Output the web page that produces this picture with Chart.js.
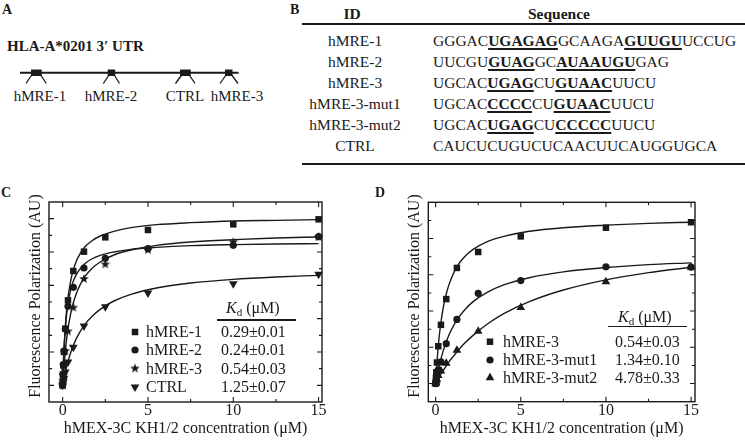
<!DOCTYPE html>
<html>
<head>
<meta charset="utf-8">
<script src="https://cdn.jsdelivr.net/npm/chart.js@4.4.1/dist/chart.umd.min.js"></script>
<style>
html, body { margin: 0; padding: 0; background: #fff; }
body { width: 745px; height: 440px; position: relative; overflow: hidden;
       font-family: "Liberation Serif", "Times New Roman", serif; color: #1a1a1a; }
.t { position: absolute; white-space: nowrap; line-height: 1; }
.c { transform: translateX(-50%); }
.b { font-weight: bold; }
.seq u { font-weight: bold; text-decoration-thickness: 1.5px; text-underline-offset: 2px; }
.rule { position: absolute; background: #1a1a1a; height: 2px; }
canvas { position: absolute; }
sub { font-size: 11px; vertical-align: -3px; line-height: 0; }
</style>
</head>
<body>

<!-- panel A -->
<div class="t b" style="left:2px;top:3px;font-size:14px">A</div>
<div class="t b" style="left:7px;top:39px;font-size:15px">HLA-A*0201 3′ UTR</div>
<svg style="position:absolute;left:0;top:0" width="270" height="110">
  <g stroke="#1a1a1a" stroke-width="1.3" fill="none">
    <line x1="20" y1="72.7" x2="238.5" y2="72.7" stroke-width="2"/>
    <path d="M31.7 75 L26 83.5 M40.7 75 L46.3 83.5"/>
    <path d="M109 75 L103.3 83.5 M114.3 75 L119.5 83.5"/>
    <path d="M181.7 75 L175.5 83.5 M189.3 75 L195 83.5"/>
    <path d="M226 75 L220 83.5 M231.7 75 L238 83.5"/>
  </g>
  <g fill="#1a1a1a">
    <rect x="31" y="69.5" width="10.7" height="6.5"/>
    <rect x="107.7" y="69.5" width="7.5" height="6.5"/>
    <rect x="180" y="69.5" width="10.7" height="6.5"/>
    <rect x="225" y="69.5" width="7.5" height="6.5"/>
  </g>
</svg>
<div class="t c" style="left:40px;top:89px;font-size:15px">hMRE-1</div>
<div class="t c" style="left:111px;top:89px;font-size:15px">hMRE-2</div>
<div class="t c" style="left:185px;top:89px;font-size:15px">CTRL</div>
<div class="t c" style="left:237px;top:89px;font-size:15px">hMRE-3</div>

<!-- panel B -->
<div class="t b" style="left:290px;top:3px;font-size:14px">B</div>
<div class="t b c" style="left:352px;top:6px;font-size:15.5px">ID</div>
<div class="t b c" style="left:559px;top:6px;font-size:15.5px">Sequence</div>
<div class="rule" style="left:302px;top:23px;width:443px"></div>
<div id="seqTable"></div>
<div class="rule" style="left:302px;top:163px;width:443px"></div>

<!-- panels C and D -->
<div class="t b" style="left:1px;top:186px;font-size:14px">C</div>
<canvas id="chartC" width="380" height="260" style="left:0;top:180px;width:380px;height:260px"></canvas>
<div class="t b" style="left:375px;top:186px;font-size:14px">D</div>
<canvas id="chartD" width="365" height="260" style="left:380px;top:180px;width:365px;height:260px"></canvas>
<div id="legends"></div>

<script>
// concentrations (µM) and fluorescence polarization readings
const conc = [0, 0.0195, 0.039, 0.078, 0.156, 0.3125, 0.625, 1.25, 2.5, 5, 10, 15];
const fpMRE1 = [0, 0.33, 0.6, 1.0, 1.7, 2.55, 3.43, 4.01, 4.44, 4.66, 4.83, 4.98];
const fpMRE2 = [0, 0.32, 0.62, 1.03, 1.69, 2.37, 2.94, 3.52, 3.81, 4.10, 4.20, 4.46];
const fpMRE3 = [0, 0.16, 0.31, 0.58, 1.03, 1.62, 2.33, 3.19, 3.63, 4.06, 4.30, 4.45];
const fpCTRL = [0, 0.06, 0.11, 0.21, 0.40, 0.70, 1.14, 1.78, 2.36, 2.77, 3.05, 3.33];
const fpMut1 = [0, 0.05, 0.12, 0.22, 0.38, 0.60, 1.10, 1.77, 2.49, 2.84, 3.22, 3.21];
const fpMut2 = [0, 0.03, 0.07, 0.12, 0.22, 0.35, 0.56, 0.92, 1.44, 2.10, 2.81, 3.21];

// fitted curves
const fitX = [0, 0.05, 0.1, 0.2, 0.3, 0.45, 0.6, 0.8, 1, 1.3, 1.7, 2.2, 3, 4, 5.5, 7.5, 10, 12.5, 15];
const fitMRE1 = [0, 0.75, 1.30, 2.07, 2.58, 3.08, 3.42, 3.72, 3.93, 4.15, 4.33, 4.48, 4.62, 4.73, 4.82, 4.88, 4.93, 4.95, 4.97];
const fitMRE2 = [0, 0.75, 1.27, 1.96, 2.40, 2.82, 3.09, 3.32, 3.48, 3.65, 3.79, 3.90, 4.00, 4.08, 4.14, 4.19, 4.22, 4.24, 4.25];
const fitMRE3 = [0, 0.39, 0.72, 1.25, 1.65, 2.10, 2.43, 2.75, 2.99, 3.26, 3.50, 3.70, 3.91, 4.06, 4.20, 4.30, 4.37, 4.42, 4.45];
const fitCTRL = [0, 0.14, 0.27, 0.49, 0.69, 0.95, 1.16, 1.40, 1.59, 1.83, 2.06, 2.28, 2.53, 2.73, 2.92, 3.07, 3.18, 3.25, 3.30];
const fitMut1 = [0, 0.13, 0.25, 0.47, 0.66, 0.91, 1.12, 1.36, 1.55, 1.79, 2.03, 2.26, 2.51, 2.72, 2.92, 3.08, 3.20, 3.28, 3.33];
const fitMut2 = [0, 0.04, 0.09, 0.17, 0.25, 0.36, 0.47, 0.61, 0.73, 0.90, 1.11, 1.33, 1.63, 1.93, 2.26, 2.58, 2.86, 3.06, 3.21];

const namesC = ["hMRE-1", "hMRE-2", "hMRE-3", "CTRL"];
const kdC = ["0.29±0.01", "0.24±0.01", "0.54±0.03", "1.25±0.07"];
const namesD = ["hMRE-3", "hMRE-3-mut1", "hMRE-3-mut2"];
const kdD = ["0.54±0.03", "1.34±0.10", "4.78±0.33"];

const xTickLabels = [0, 5, 10, 15];
const xMinorTicks = [2.5, 7.5, 12.5];
const yMajorC = [0, 1, 2, 3, 4, 5];
const yMinorC = [0.5, 1.5, 2.5, 3.5, 4.5];
const yMajorD = [0, 1, 2, 3, 4];
const yMinorD = [0.5, 1.5, 2.5, 3.5, 4.5];

// table B
const seqIds = ["hMRE-1", "hMRE-2", "hMRE-3", "hMRE-3-mut1", "hMRE-3-mut2", "CTRL"];
const seqHtml = [
    "GGGAC<u>UGAGAG</u>GCAAGA<u>GUUGU</u>UCCUG",
    "UUCGU<u>GUAG</u>GC<u>AUAAUGU</u>GAG",
    "UGCAC<u>UGAG</u>CU<u>GUAAC</u>UUCU",
    "UGCAC<u>CCCC</u>CU<u>GUAAC</u>UUCU",
    "UGCAC<u>UGAG</u>CU<u>CCCCC</u>UUCU",
    "CAUCUCUGUCUCAACUUCAUGGUGCA"
];

const FONT = '"Liberation Serif", "Times New Roman", serif';
const INK = '#1a1a1a';

let tableHtml = "";
seqIds.forEach((id, i) => {
    const top = 32.5 + i * 21;
    tableHtml += `<div class="t c" style="left:355px;top:${top}px;font-size:15.5px">${id}</div>`;
    tableHtml += `<div class="t seq" style="left:433px;top:${top}px;font-size:15.5px">${seqHtml[i]}</div>`;
});
document.getElementById('seqTable').innerHTML = tableHtml;

function starImage(r){
    const c = document.createElement('canvas');
    const s = Math.ceil(r * 2 + 2);
    c.width = s; c.height = s;
    const g = c.getContext('2d');
    g.fillStyle = INK;
    g.beginPath();
    for(let i = 0; i < 10; i++){
        const rad = i % 2 ? r * 0.42 : r;
        const ang = -Math.PI / 2 + i * Math.PI / 5;
        g.lineTo(s / 2 + rad * Math.cos(ang), s / 2 + rad * Math.sin(ang));
    }
    g.closePath();
    g.fill();
    return c;
}
const star = starImage(5);

const marks = {
    square: {pointStyle: 'rect', radius: 4.6, rotation: 0},
    circle: {pointStyle: 'circle', radius: 3.6, rotation: 0},
    star: {pointStyle: star, radius: 5, rotation: 0},
    down: {pointStyle: 'triangle', radius: 5, rotation: 180},
    up: {pointStyle: 'triangle', radius: 5, rotation: 0}
};

function fitSet(ys){
    return {
        type: 'line',
        data: fitX.map((x, i) => ({x: x, y: ys[i]})),
        borderColor: INK,
        borderWidth: 1.4,
        pointRadius: 0,
        cubicInterpolationMode: 'monotone',
        fill: false,
        clip: 2
    };
}

function pointSet(ys, m){
    return {
        type: 'line',
        data: conc.map((x, i) => ({x: x, y: ys[i]})),
        showLine: false,
        pointStyle: m.pointStyle,
        pointRadius: m.radius,
        pointRotation: m.rotation,
        pointBackgroundColor: INK,
        pointBorderWidth: 0,
        clip: false
    };
}

const framePlugin = {
    id: 'frame',
    afterDatasetsDraw(chart, args, opts){
        const {ctx, chartArea: a, scales: {x, y}} = chart;
        ctx.save();
        ctx.strokeStyle = INK;
        ctx.lineWidth = 1.4;
        ctx.strokeRect(a.left, a.top, a.right - a.left, a.bottom - a.top);
        ctx.lineWidth = 1.1;
        ctx.beginPath();
        const xt = (vals, len) => vals.forEach(v => {
            const px = x.getPixelForValue(v);
            ctx.moveTo(px, a.bottom); ctx.lineTo(px, a.bottom - len);
            ctx.moveTo(px, a.top); ctx.lineTo(px, a.top + len);
        });
        const yt = (vals, len) => vals.forEach(v => {
            const py = y.getPixelForValue(v);
            ctx.moveTo(a.left, py); ctx.lineTo(a.left + len, py);
            ctx.moveTo(a.right, py); ctx.lineTo(a.right - len, py);
        });
        xt(xTickLabels, 5); xt(xMinorTicks, 3);
        yt(opts.yMajor, 5); yt(opts.yMinor, 3);
        ctx.stroke();
        ctx.restore();
    },
    afterDraw(chart, args, opts){
        const ctx = chart.ctx;
        ctx.save();
        ctx.fillStyle = INK;
        ctx.strokeStyle = INK;
        (opts.legend || []).forEach(it => {
            Chart.helpers.drawPoint(ctx, {pointStyle: it.m.pointStyle, radius: it.m.radius, rotation: it.m.rotation, borderWidth: 0}, it.x, it.y);
        });
        ctx.restore();
    }
};

function makeChart(id, sets, cfg){
    return new Chart(document.getElementById(id), {
        type: 'line',
        data: {datasets: sets},
        plugins: [framePlugin],
        options: {
            responsive: false,
            animation: false,
            devicePixelRatio: 1,
            layout: {padding: {top: cfg.top, right: cfg.right, bottom: 0, left: 0}},
            plugins: {
                legend: {display: false},
                tooltip: {enabled: false},
                frame: {yMajor: cfg.yMajor, yMinor: cfg.yMinor, legend: cfg.legend}
            },
            scales: {
                x: {
                    type: 'linear',
                    min: cfg.xMin,
                    max: cfg.xMax,
                    afterBuildTicks: s => { s.ticks = xTickLabels.map(v => ({value: v})); },
                    afterFit: s => { s.height = cfg.xHeight; },
                    grid: {display: false, drawTicks: false},
                    border: {display: false},
                    ticks: {color: INK, padding: 1, maxRotation: 0, autoSkip: false,
                            font: {family: FONT, size: 16, lineHeight: 1}},
                    title: {display: true, text: 'hMEX-3C KH1/2 concentration (μM)', color: INK,
                            font: {family: FONT, size: 16, lineHeight: 1.2}, padding: {top: 0, bottom: 2}}
                },
                y: {
                    type: 'linear',
                    min: cfg.yMin,
                    max: cfg.yMax,
                    afterFit: s => { s.width = cfg.yWidth; },
                    grid: {display: false, drawTicks: false},
                    border: {display: false},
                    ticks: {display: false},
                    title: {display: true, text: '   Fluorescence Polarization (AU)', color: INK,
                            font: {family: FONT, size: 16, lineHeight: 1.2}, padding: {top: cfg.yTitlePad, bottom: 0}}
                }
            }
        }
    });
}

const setsC = [
    fitSet(fitMRE1), fitSet(fitMRE2), fitSet(fitMRE3), fitSet(fitCTRL),
    pointSet(fpMRE1, marks.square), pointSet(fpMRE2, marks.circle),
    pointSet(fpMRE3, marks.star), pointSet(fpCTRL, marks.down)
];
const marksC = [marks.square, marks.circle, marks.star, marks.down];
const rowsC = [152, 170, 188.5, 207];

makeChart('chartC', setsC, {
    top: 22, right: 58, xHeight: 38, yWidth: 49, yTitlePad: 26,
    xMin: -0.8, xMax: 15.2, yMin: -0.5, yMax: 5.5,
    yMajor: yMajorC, yMinor: yMinorC,
    legend: marksC.map((m, i) => ({m: m, x: 135, y: rowsC[i]}))
});

const setsD = [
    fitSet(fitMRE3), fitSet(fitMut1), fitSet(fitMut2),
    pointSet(fpMRE3, marks.square), pointSet(fpMut1, marks.circle), pointSet(fpMut2, marks.up)
];
const marksD = [marks.square, marks.circle, marks.up];
const rowsD = [161.7, 180, 197.7];

makeChart('chartD', setsD, {
    top: 22.3, right: 50, xHeight: 38.3, yWidth: 48.3, yTitlePad: 25.4,
    xMin: -0.43, xMax: 15.23, yMin: -0.5, yMax: 5,
    yMajor: yMajorD, yMinor: yMinorD,
    legend: marksD.map((m, i) => ({m: m, x: 110, y: rowsD[i]}))
});

// Kd tables inside C and D
let lg = "";
lg += `<div class="t" style="left:226px;top:300px;font-size:16px"><i>K</i><sub>d</sub> (μM)</div>`;
lg += `<div class="rule" style="left:217px;top:319px;width:79px;height:1.5px"></div>`;
namesC.forEach((n, i) => {
    const top = rowsC[i] + 180 - 8;
    lg += `<div class="t" style="left:146px;top:${top}px;font-size:16px">${n}</div>`;
    lg += `<div class="t" style="left:221px;top:${top}px;font-size:16px">${kdC[i]}</div>`;
});
lg += `<div class="t" style="left:618px;top:309px;font-size:16px"><i>K</i><sub>d</sub> (μM)</div>`;
lg += `<div class="rule" style="left:608px;top:325.5px;width:79px;height:1.5px"></div>`;
namesD.forEach((n, i) => {
    const top = rowsD[i] + 180 - 8;
    lg += `<div class="t" style="left:503px;top:${top}px;font-size:16px">${n}</div>`;
    lg += `<div class="t" style="left:615px;top:${top}px;font-size:16px">${kdD[i]}</div>`;
});
document.getElementById('legends').innerHTML = lg;
</script>
</body>
</html>
